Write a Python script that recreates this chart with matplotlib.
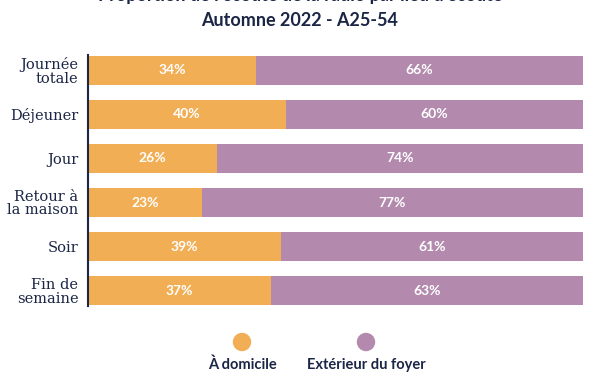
import matplotlib
matplotlib.use("Agg")
import matplotlib.pyplot as plt

# donnees
categories = ["Journée\ntotale", "Déjeuner", "Jour", "Retour à\nla maison", "Soir", "Fin de\nsemaine"]
domicile = [34, 40, 26, 23, 39, 37]
exterieur = [66, 60, 74, 77, 61, 63]
series_names = ["À domicile", "Extérieur du foyer"]

orange = "#F2AE55"
mauve = "#B38AAD"
navy = "#1B2545"

fig = plt.figure(figsize=(6, 3.72), dpi=100)
ax = fig.add_axes([88 / 600, 1 - 306 / 372, 495 / 600, 251 / 372])

y = list(range(len(categories)))
ax.barh(y, domicile, height=0.66, color=orange)
ax.barh(y, exterieur, left=domicile, height=0.66, color=mauve)

for i in y:
    ax.text(domicile[i] / 2, i, f"{domicile[i]}%", ha="center", va="center",
            color="white", fontsize=10, fontweight="bold", family="Lato")
    ax.text(domicile[i] + exterieur[i] / 2, i, f"{exterieur[i]}%", ha="center", va="center",
            color="white", fontsize=10, fontweight="bold", family="Lato")

ax.set_xlim(0, 100)
ax.set_ylim(5.35, -0.35)
ax.set_yticks(y)
ax.set_yticklabels(categories, family="DejaVu Serif", fontsize=10.5, color=navy, linespacing=0.95)
ax.tick_params(axis="y", length=0, pad=7)
ax.set_xticks([])
for s in ["top", "right", "bottom"]:
    ax.spines[s].set_visible(False)
ax.spines["left"].set_color(navy)
ax.spines["left"].set_linewidth(1.5)

# titre (premiere ligne coupee en haut)
fig.text(0.5, 1 - (-4) / 372, "Proportion de l'écoute de la radio par lieu d'écoute",
         ha="center", va="center", fontsize=13, fontweight="bold", color=navy, family="Lato")
fig.text(0.5, 1 - 21 / 372, "Automne 2022 - A25-54",
         ha="center", va="center", fontsize=13, fontweight="bold", color=navy, family="Lato")

# legende
for xpix, col, name in [(242, orange, series_names[0]), (366, mauve, series_names[1])]:
    fig.patches.append(matplotlib.patches.Ellipse((xpix / 600, 1 - 342 / 372), 17 / 600, 17 / 372,
                                                  transform=fig.transFigure, color=col))
    fig.text(xpix / 600, 1 - 365 / 372, name, ha="center", va="center",
             fontsize=10.5, fontweight="bold", color=navy, family="Lato")

fig.savefig("out.png", dpi=100)
